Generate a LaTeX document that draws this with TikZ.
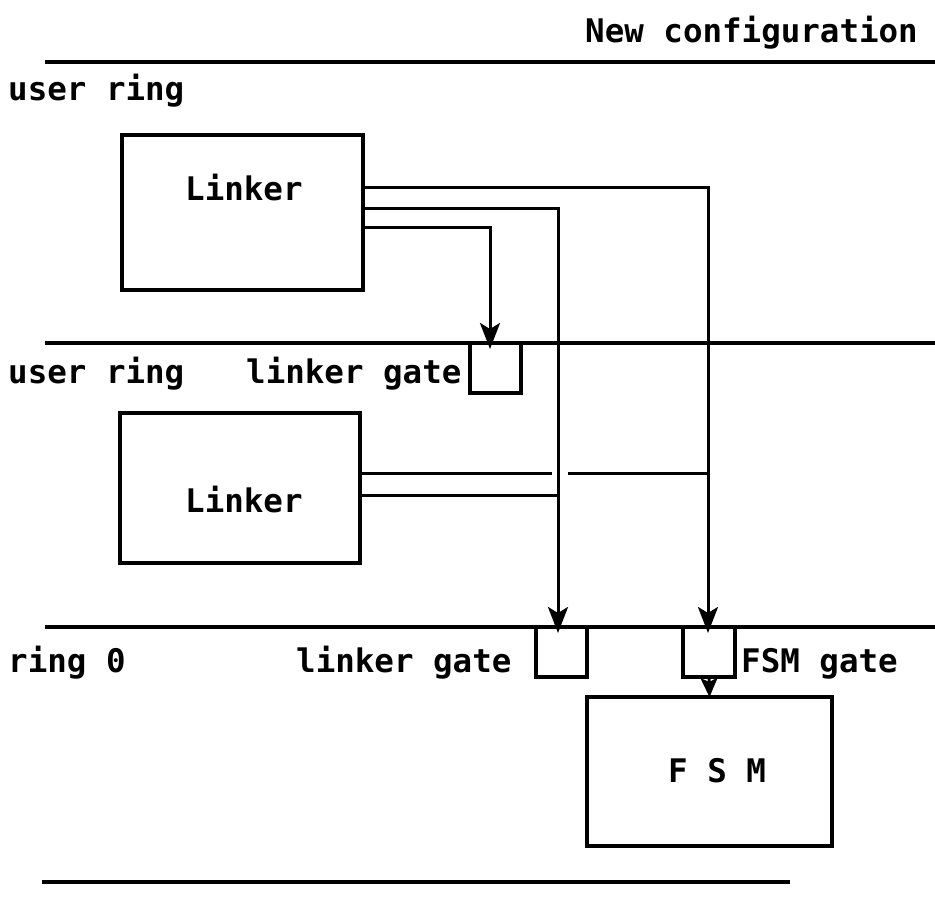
\documentclass[tikz,border=0pt]{standalone}
\usepackage{fontspec}
\setmonofont{DejaVu Sans Mono}
\usetikzlibrary{arrows.meta,calc}
\begin{document}
\begin{tikzpicture}[x=1pt,y=-1pt,
  lbl/.style={font=\ttfamily\bfseries\fontsize{32.5}{34}\selectfont, inner sep=0pt, anchor=base west},
  box/.style={draw, line width=3.2pt, inner sep=0pt, outer sep=0pt},
  wire/.style={line width=3pt},
  ringline/.style={line width=3.8pt},
  arr/.style={wire, -{Stealth[length=26pt,width=20pt,inset=6pt]}},
  arrs/.style={wire, -{Stealth[length=19pt,width=17pt,inset=4pt]}}
]
\useasboundingbox (0,0) rectangle (935,897);

% ring boundary lines
\coordinate (r1a) at (45,62);  \coordinate (r1b) at (935,62);
\coordinate (r2a) at (45,343); \coordinate (r2b) at (935,343);
\coordinate (r3a) at (45,627); \coordinate (r3b) at (935,627);
\coordinate (r4a) at (42,882); \coordinate (r4b) at (790,882);
\draw[ringline] (r1a) -- (r1b);
\draw[ringline] (r2a) -- (r2b);
\draw[ringline] (r3a) -- (r3b);
\draw[ringline] (r4a) -- (r4b);

% boxes
\node[box, minimum width=241pt, minimum height=155pt] (L1) at (242.5,212.5) {};
\node[box, minimum width=240pt, minimum height=150pt] (L2) at (240,488) {};
\node[box, minimum width=51pt, minimum height=50pt] (G1) at (495.5,368) {};
\node[box, minimum width=51pt, minimum height=50pt] (G2) at (561.5,652) {};
\node[box, minimum width=52pt, minimum height=50pt] (G3) at (709,652) {};
\node[box, minimum width=245pt, minimum height=149pt] (FSM) at (709.5,771.5) {};

% texts
\node[lbl] (t0) at (585,42) {New configuration};
\node[lbl] (t1) at (8,100) {user ring};
\node[lbl] (t2) at (8,383) {user ring};
\node[lbl] (t3) at (246,383) {linker gate};
\node[lbl] (t4) at (8,672) {ring 0};
\node[lbl] (t5) at (296,672) {linker gate};
\node[lbl] (t6) at (741,672) {FSM gate};
\node[lbl] (t7) at (185,200) {Linker};
\node[lbl] (t8) at (185,512) {Linker};
\node[lbl] (t9) at (668,782) {F S M};

% bends of the connectors from the upper linker
\coordinate (b1) at (490,227);
\coordinate (b2) at (558,208);
\coordinate (b3) at (708,187);
\draw[arr] (L1.east |- b1) -- (b1) -- ($(G1.north)+(-5.5,6)$);
\draw[arr] (L1.east |- b2) -- (b2) -- ($(G2.north)+(-3.5,6)$);
\draw[arr] (L1.east |- b3) -- (b3) -- ($(G3.north)+(-1,6)$);

% lines from lower linker
\coordinate (hopL) at (552,473);
\coordinate (hopR) at (568,473);
\coordinate (jA) at (708,473);
\coordinate (jB) at (558,495);
\draw[wire] (L2.east |- hopL) -- (hopL);
\draw[wire] (hopR) -- (jA);
\draw[wire] (L2.east |- jB) -- (jB);

% FSM gate to FSM
\draw[arrs] (G3.south) -- (FSM.north);
\end{tikzpicture}
\end{document}
